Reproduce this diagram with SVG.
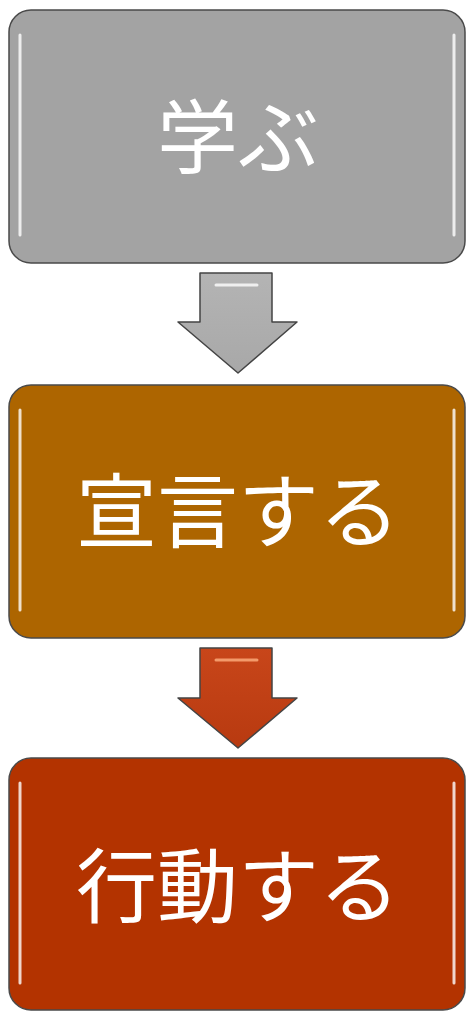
<svg xmlns="http://www.w3.org/2000/svg" width="467" height="1012" viewBox="0 0 467 1012">
<style>
.box{stroke:#4a4a4a;stroke-width:1.5}
.hl{fill:none;stroke:#ffffff;stroke-width:3;stroke-linecap:round;opacity:0.8}
.lbl{font-family:"Noto Sans CJK JP","Noto Sans CJK SC",sans-serif;font-size:81px;fill:#ffffff;text-anchor:middle;dominant-baseline:central}
.arr{stroke:#444;stroke-width:1.5;stroke-linejoin:round}
</style>
<defs>
<linearGradient id="gArr" x1="0" y1="0" x2="0" y2="1">
<stop offset="0" stop-color="#b4b4b4"/><stop offset="1" stop-color="#a8a8a8"/>
</linearGradient>
<linearGradient id="rArr" x1="0" y1="0" x2="0" y2="1">
<stop offset="0" stop-color="#c8461a"/><stop offset="1" stop-color="#b83a10"/>
</linearGradient>
</defs>
<g id="node-learn">
<rect class="box" x="9" y="10" width="456" height="253" rx="22" fill="#a3a3a3"/>
<path class="hl" d="M20 35 V235 M454 35 V235"/>
<text class="lbl" x="238" y="131">学ぶ</text>
</g>
<g id="node-declare">
<rect class="box" x="9" y="385" width="456" height="253" rx="22" fill="#ad6500" stroke="#6a5a4a"/>
<path class="hl" d="M20 410 V610 M454 410 V610" stroke="#ffc060"/>
<text class="lbl" x="238" y="505">宣言する</text>
</g>
<g id="node-act">
<rect class="box" x="9" y="758" width="456" height="252" rx="22" fill="#b33300" stroke="#6a5a4a"/>
<path class="hl" d="M20 783 V983 M454 783 V983" stroke="#ff9a60"/>
<text class="lbl" x="238" y="880">行動する</text>
</g>
<g id="connectors">
<path class="arr" fill="url(#gArr)" d="M200 273 H272 V322 H297 L238 373 L178 322 H200 Z"/>
<path d="M216 285 H257" stroke="#ffffff" stroke-width="3" stroke-linecap="round" opacity="0.8"/>
<path class="arr" fill="url(#rArr)" d="M200 648 H272 V698 H297 L238 748 L178 698 H200 Z"/>
<path d="M216 660 H257" stroke="#ffb080" stroke-width="3" stroke-linecap="round" opacity="0.8"/>
</g>
</svg>
